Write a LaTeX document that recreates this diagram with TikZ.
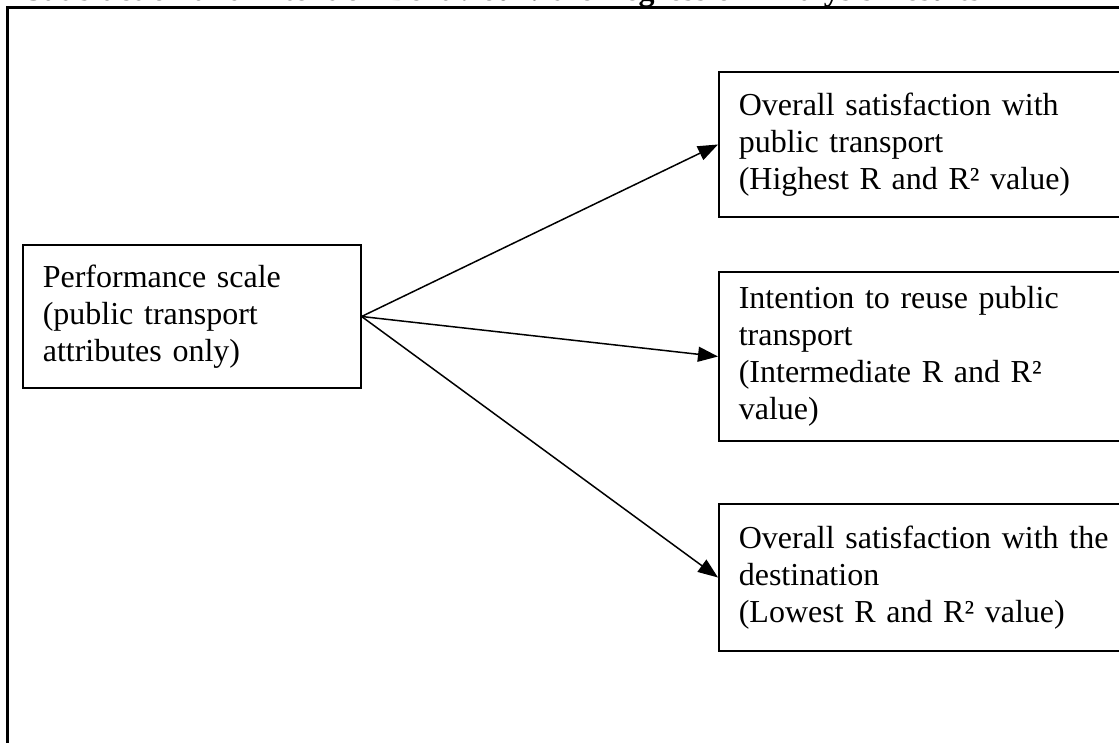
\documentclass[tikz,border=0pt]{standalone}
\usepackage{fontspec}
\setmainfont{Liberation Serif}
\usetikzlibrary{arrows.meta}
\begin{document}
\begin{tikzpicture}[x=1pt,y=-1pt,
  box/.style={draw, line width=1.6pt, align=left, anchor=west, inner xsep=20pt, inner ysep=0pt,
    font=\fontsize{32}{37}\selectfont},
  conn/.style={line width=1.5pt, -{Triangle[length=20pt,width=15pt]}},
  frame/.style={line width=3pt}]
\clip (0,0) rectangle (1119,743);
\fill[white] (0,0) rectangle (1119,743);
% title (cut off at the top, as in the reference)
\node[anchor=base west, inner sep=0pt, font=\fontsize{32}{37}\selectfont\bfseries] (title) at (25,1)
  {Satisfaction and Intention Behaviour: the Regression Analysis Results};
% outer frame
\coordinate (fbl) at (7,760);
\coordinate (ftl) at (7,8);
\coordinate (ftr) at (1140,8);
\draw[frame] (fbl) -- (ftl) -- (ftr);
% boxes
\node[box, text width=298pt, minimum height=143pt] (perf) at (22,316.5)
  {Performance scale\\(public transport\\attributes only)};
\node[box, text width=400pt, minimum height=145pt] (sat) at (718,144.5)
  {Overall satisfaction with\\public transport\\(Highest R and R² value)};
\node[box, text width=400pt, minimum height=169pt] (reuse) at (718,356.5)
  {Intention to reuse public\\transport\\(Intermediate R and R²\\value)};
\node[box, text width=400pt, minimum height=147pt] (dest) at (718,577.5)
  {Overall satisfaction with the\\destination\\(Lowest R and R² value)};
% connectors
\draw[conn] (perf.east) -- (sat.west);
\draw[conn] (perf.east) -- (reuse.west);
\draw[conn] (perf.east) -- (dest.west);
\end{tikzpicture}
\end{document}
